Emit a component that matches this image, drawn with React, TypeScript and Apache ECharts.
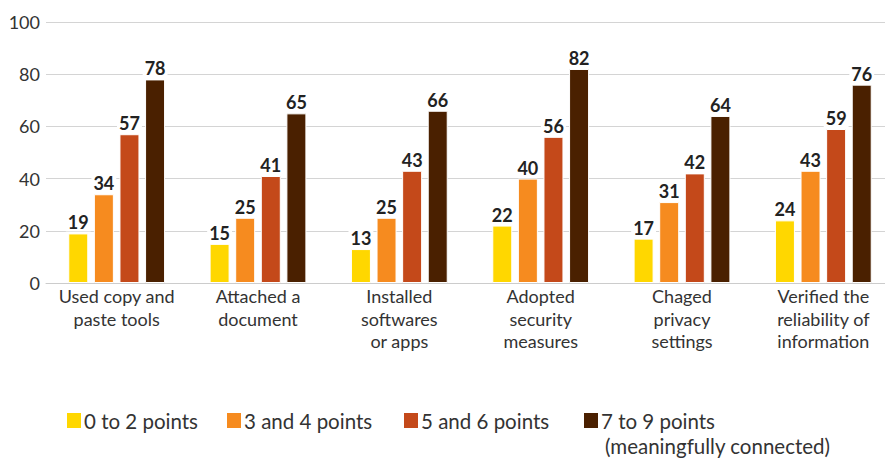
import React, { useEffect, useRef } from "react";
import * as echarts from "echarts";

const categories = [
  "Used copy and\npaste tools",
  "Attached a\ndocument",
  "Installed\nsoftwares\nor apps",
  "Adopted\nsecurity\nmeasures",
  "Chaged\nprivacy\nsettings",
  "Verified the\nreliability of\ninformation",
];
const seriesNames = ["0 to 2 points", "3 and 4 points", "5 and 6 points", "7 to 9 points"];
const legendExtraLine = "(meaningfully connected)";
const s0to2 = [19, 15, 13, 22, 17, 24];
const s3and4 = [34, 25, 25, 40, 31, 43];
const s5and6 = [57, 41, 43, 56, 42, 59];
const s7to9 = [78, 65, 66, 82, 64, 76];
const colors = ["#FFD700", "#F68B1F", "#C4491A", "#4A2000"];
const yTicks = { min: 0, max: 100, interval: 20 };

export default function App() {
  const ref = useRef<HTMLDivElement>(null);
  useEffect(() => {
    if (!ref.current) return;
    const chart = echarts.init(ref.current, null, { renderer: "svg" });
    const font = "Lato, 'Noto Sans', sans-serif";
    const data = [s0to2, s3and4, s5and6, s7to9];
    const legendLefts = [65, 225, 402, 582];
    chart.setOption({
      animation: false,
      textStyle: { fontFamily: font },
      grid: { left: 46, right: 0, top: 22, bottom: 175 },
      legend: seriesNames.map((name, i) => ({
        left: legendLefts[i],
        top: 410,
        padding: 0,
        itemWidth: 16,
        itemHeight: 17,
        icon: "rect",
        data: [name],
        selectedMode: false,
        textStyle: { fontSize: 20.5, color: "#333", fontFamily: font, padding: [0, 0, 0, -3] },
      })),
      graphic: [
        {
          type: "text",
          x: 605,
          y: 446,
          style: {
            text: legendExtraLine,
            fontSize: 20.5,
            fill: "#333",
            fontFamily: font,
            verticalAlign: "middle",
          },
        },
      ],
      xAxis: {
        type: "category",
        data: categories,
        axisLine: { lineStyle: { color: "#cccccc" } },
        axisTick: { show: false },
        axisLabel: {
          interval: 0,
          color: "#333",
          fontSize: 18,
          lineHeight: 22.5,
          margin: 2,
          fontFamily: font,
        },
      },
      yAxis: {
        type: "value",
        min: yTicks.min,
        max: yTicks.max,
        interval: yTicks.interval,
        axisLine: { show: false },
        axisTick: { show: false },
        splitLine: { lineStyle: { color: "#d4d4d4" } },
        axisLabel: { color: "#333", fontSize: 18, margin: 6, fontFamily: font },
      },
      series: seriesNames.map((name, i) => ({
        name,
        type: "bar",
        data: data[i],
        barWidth: 20,
        barGap: "28%",
        itemStyle: { color: colors[i], borderColor: "#fff", borderWidth: 1 },
        label: {
          show: true,
          position: "top",
          distance: 2,
          color: "#222",
          fontSize: 18,
          fontWeight: "bold",
          fontFamily: font,
          backgroundColor: "#fff",
          padding: [0, 2, 0, 2],
        },
      })),
    });
    return () => chart.dispose();
  }, []);
  return (
    <div
      style={{
        position: "absolute",
        left: 0,
        top: 0,
        width: 885,
        height: 458,
        overflow: "hidden",
      }}
    >
      <div ref={ref} style={{ width: 894, height: 458 }} />
    </div>
  );
}
